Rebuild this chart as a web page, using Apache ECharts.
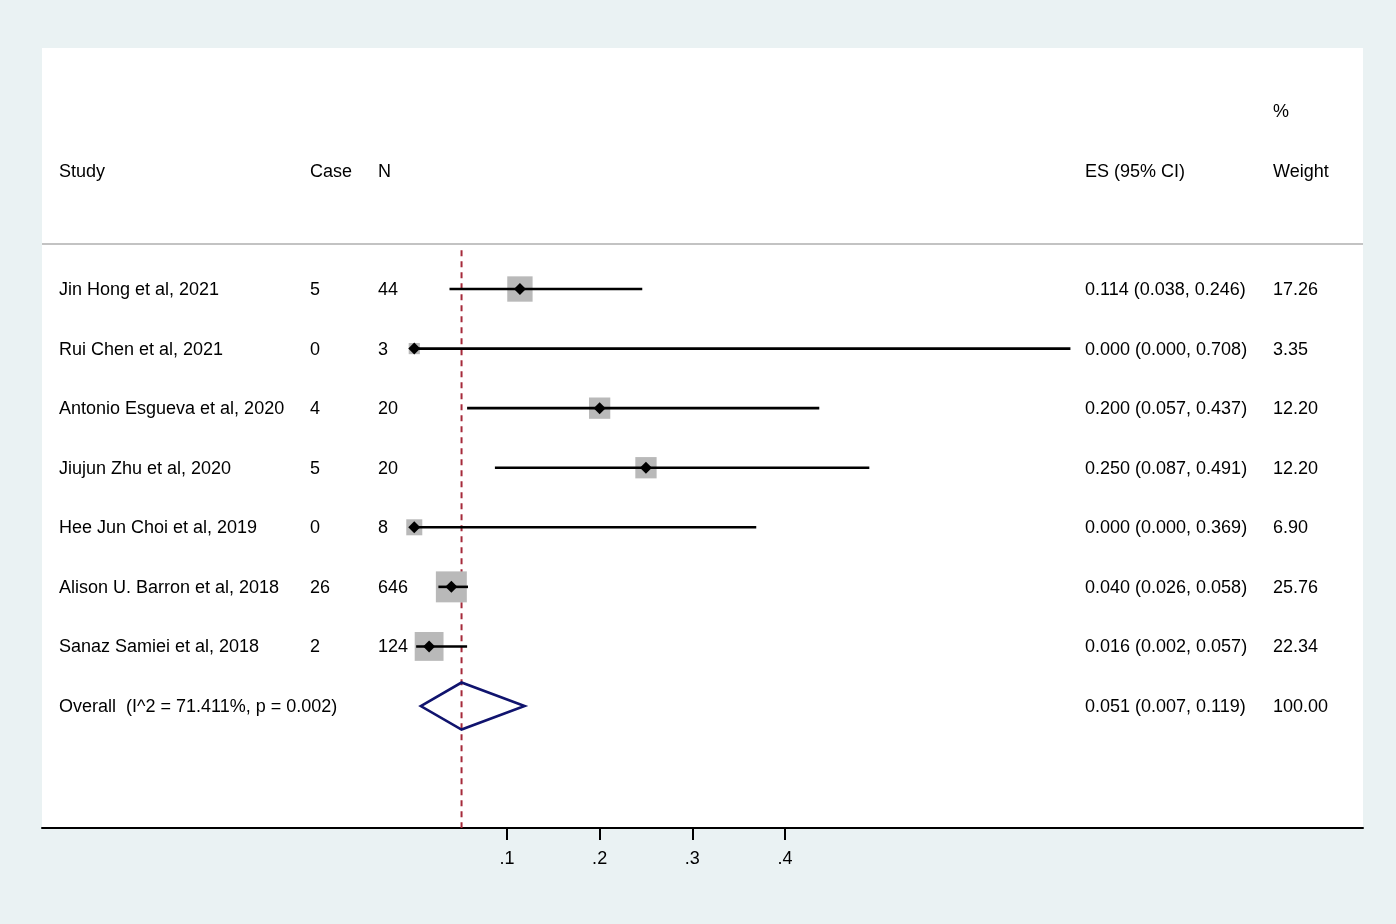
<!DOCTYPE html>
<html>
<head>
<meta charset="utf-8">
<script src="https://cdn.jsdelivr.net/npm/echarts@6/dist/echarts.min.js"></script>
<style>html,body{margin:0;padding:0;background:#eaf2f3;}#c{width:1396px;height:924px;}</style>
</head>
<body>
<div id="c"></div>
<script>
var studies = ["Jin Hong et al, 2021","Rui Chen et al, 2021","Antonio Esgueva et al, 2020","Jiujun Zhu et al, 2020","Hee Jun Choi et al, 2019","Alison U. Barron et al, 2018","Sanaz Samiei et al, 2018"];
var cases = ["5","0","4","5","0","26","2"];
var ns = ["44","3","20","20","8","646","124"];
var es = [0.114,0.000,0.200,0.250,0.000,0.040,0.016];
var lo = [0.038,0.000,0.057,0.087,0.000,0.026,0.002];
var hi = [0.246,0.708,0.437,0.491,0.369,0.058,0.057];
var weights = ["17.26","3.35","12.20","12.20","6.90","25.76","22.34"];
var esText = ["0.114 (0.038, 0.246)","0.000 (0.000, 0.708)","0.200 (0.057, 0.437)","0.250 (0.087, 0.491)","0.000 (0.000, 0.369)","0.040 (0.026, 0.058)","0.016 (0.002, 0.057)"];
var overallLabel = "Overall  (I^2 = 71.411%, p = 0.002)";
var overall = {es:0.051, lo:0.007, hi:0.119, text:"0.051 (0.007, 0.119)", weight:"100.00"};
var xTicks = [0.1,0.2,0.3,0.4];
var xTickLabels = [".1",".2",".3",".4"];
var headers = {study:"Study", cases:"Case", n:"N", es:"ES (95% CI)", weight:"Weight", pct:"%"};

var XMIN = -0.4017, XMAX = 1.0237, YMIN = -4.046, YMAX = 9.048;
var FONT = "Liberation Sans, Arial, sans-serif";
var FS = 18;
var colX = {study:59, cases:310, n:378, es:1085, weight:1273};

var studyData = es.map(function(v,i){return [i, v, lo[i], hi[i], parseFloat(weights[i])];});
var overallRow = studies.length;

function txt(x,y,s){
  return {type:'text', style:{x:x, y:y+1, text:s, fill:'#000', font: FS+'px '+FONT, textVerticalAlign:'middle', textAlign:'left'}};
}

var option = {
  backgroundColor:'#eaf2f3',
  animation:false,
  grid:{left:42, right:33, top:48, bottom:96, show:true, backgroundColor:'#ffffff', borderWidth:0},
  xAxis:{type:'value', min:XMIN, max:XMAX, splitLine:{show:false},
    axisLine:{show:true, onZero:false, lineStyle:{color:'#000', width:2}},
    axisTick:{show:true, length:12, lineStyle:{color:'#000', width:2}, customValues: xTicks},
    axisLabel:{show:true, customValues: xTicks, margin:22, color:'#000', fontSize:FS, fontFamily:FONT,
      formatter:function(v){var k = xTicks.findIndex(function(t){return Math.abs(t-v)<1e-9;}); return k>=0?xTickLabels[k]:'';}}
  },
  yAxis:{type:'value', min:YMIN, max:YMAX, inverse:true, show:false},
  series:[
    { // separator + reference dashed line
      type:'custom', clip:false, data:[[0]],
      renderItem:function(params, api){
        var a = api.coord([XMIN,-0.755]), b = api.coord([XMAX,-0.755]);
        var t = api.coord([overall.es,-0.65]), u = api.coord([overall.es,YMAX]);
        return {type:'group', children:[
          {type:'line', shape:{x1:a[0],y1:a[1],x2:b[0],y2:b[1]}, style:{stroke:'#c3c3c3', lineWidth:2}},
          {type:'line', shape:{x1:t[0],y1:t[1],x2:u[0],y2:u[1]}, style:{stroke:'#a52a3a', lineWidth:2, lineDash:[6,5]}}
        ]};
      }
    },
    { // study boxes, CI lines, markers
      type:'custom', clip:false, data:studyData,
      renderItem:function(params, api){
        var i = api.value(0);
        var c = api.coord([api.value(1), i]);
        var l = api.coord([api.value(2), i]);
        var h = api.coord([api.value(3), i]);
        var s = Math.sqrt(api.value(4))*6.1;
        var d = 6;
        return {type:'group', children:[
          {type:'rect', shape:{x:c[0]-s/2, y:c[1]-s/2, width:s, height:s}, style:{fill:'#b9b9b9'}},
          {type:'line', shape:{x1:l[0],y1:l[1],x2:h[0],y2:h[1]}, style:{stroke:'#000', lineWidth:2.6}},
          {type:'polygon', shape:{points:[[c[0]-d,c[1]],[c[0],c[1]-d],[c[0]+d,c[1]],[c[0],c[1]+d]]}, style:{fill:'#000'}}
        ]};
      }
    },
    { // overall diamond
      type:'custom', clip:false, data:[[overallRow, overall.es, overall.lo, overall.hi]],
      renderItem:function(params, api){
        var i = api.value(0);
        var c = api.coord([api.value(1), i]);
        var l = api.coord([api.value(2), i]);
        var h = api.coord([api.value(3), i]);
        var hh = 23.5;
        return {type:'polygon', shape:{points:[[l[0],c[1]],[c[0],c[1]-hh],[h[0],c[1]],[c[0],c[1]+hh]]},
          style:{fill:'none', stroke:'#10136e', lineWidth:2.6}};
      }
    },
    { // text rows
      type:'custom', clip:false, data:studies.map(function(s,i){return [i];}).concat([[overallRow]]),
      renderItem:function(params, api){
        var i = api.value(0);
        var y = api.coord([0,i])[1];
        if (i === overallRow) {
          return {type:'group', children:[
            txt(colX.study,y,overallLabel), txt(colX.es,y,overall.text), txt(colX.weight,y,overall.weight)
          ]};
        }
        return {type:'group', children:[
          txt(colX.study,y,studies[i]), txt(colX.cases,y,cases[i]), txt(colX.n,y,ns[i]),
          txt(colX.es,y,esText[i]), txt(colX.weight,y,weights[i])
        ]};
      }
    },
    { // headers
      type:'custom', clip:false, data:[[-2]],
      renderItem:function(params, api){
        var y = api.coord([0,-1.98])[1];
        var y2 = api.coord([0,-2.99])[1];
        return {type:'group', children:[
          txt(colX.study,y,headers.study), txt(colX.cases,y,headers.cases), txt(colX.n,y,headers.n),
          txt(colX.es,y,headers.es), txt(colX.weight,y,headers.weight), txt(colX.weight,y2,headers.pct)
        ]};
      }
    }
  ]
};
var chart = echarts.init(document.getElementById('c'));
chart.setOption(option);
</script>
</body>
</html>
